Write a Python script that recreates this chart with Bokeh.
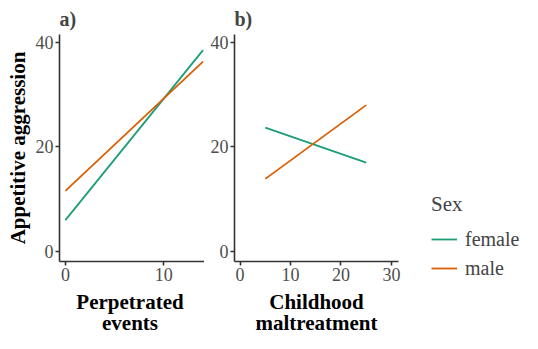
from bokeh.plotting import figure
from bokeh.layouts import row, column
from bokeh.models import Range1d, FixedTicker, Legend, LegendItem, Title
from bokeh.core.properties import value
from bokeh.embed import file_html
from bokeh.resources import INLINE

# ---- data ----
sexes = ["female", "male"]
colors = ["#1b9e77", "#d95f02"]

a_x = [0, 14]
a_female = [6.0, 38.5]
a_male = [11.6, 36.3]

b_x = [5, 25]
b_female = [23.7, 17.0]
b_male = [13.9, 28.0]

a_xticks = [0, 10]
b_xticks = [0, 10, 20, 30]
yticks = [0, 20, 40]

a_xlabel = ["Perpetrated", "events"]
b_xlabel = ["Childhood", "maltreatment"]
ylabel = "Appetitive aggression"

FONT = "Liberation Serif"
AX_COL = "#333333"
TICK_COL = "#4d4d4d"


def style(p, xticks):
    p.xgrid.visible = False
    p.ygrid.visible = False
    p.outline_line_color = None
    for ax in (p.xaxis[0], p.yaxis[0]):
        ax.axis_line_color = AX_COL
        ax.axis_line_width = 1.6
        ax.major_tick_line_color = AX_COL
        ax.major_tick_line_width = 1.6
        ax.major_tick_in = 0
        ax.major_tick_out = 4
        ax.minor_tick_line_color = None
        ax.major_label_text_font = FONT
        ax.major_label_text_font_size = "18px"
        ax.major_label_text_color = TICK_COL
        ax.major_label_standoff = 2
        ax.axis_label_standoff = 0
    p.xaxis[0].ticker = FixedTicker(ticks=xticks)
    p.yaxis[0].ticker = FixedTicker(ticks=yticks)
    p.title.text_font = FONT
    p.title.text_font_size = "20px"
    p.title.text_font_style = "bold"
    p.title.align = "left"
    p.title.offset = 0


SH = 44  # height of the x-title strip


def label_strip(width, left, right, lines):
    s = figure(width=width, height=SH, output_backend="svg", toolbar_location=None,
               x_range=Range1d(0, 1), y_range=Range1d(0, SH),
               x_axis_type=None, y_axis_type=None,
               min_border_left=left, min_border_right=right,
               min_border_top=0, min_border_bottom=0)
    s.xgrid.visible = False
    s.ygrid.visible = False
    s.outline_line_color = None
    s.text(x=[0.5, 0.5], y=[SH - 12, SH - 33], text=lines, text_font=value(FONT),
           text_font_size="21px", text_font_style="bold", text_color="black",
           text_align="center", text_baseline="middle")
    return s


HM = 289
p1 = figure(width=204, height=HM, output_backend="svg", toolbar_location=None,
            x_range=Range1d(-0.6, 14.15), y_range=Range1d(-1.9, 41.5),
            min_border_left=55, min_border_right=0, min_border_top=32, min_border_bottom=28,
            title="a)")
p1.line(a_x, a_female, line_color=colors[0], line_width=1.8)
p1.line(a_x, a_male, line_color=colors[1], line_width=1.8)
style(p1, a_xticks)
p1.add_layout(Title(text=ylabel, align="center", text_font=FONT, text_font_size="21px",
                    text_font_style="bold", text_color="black", standoff=6, offset=0), "left")

p2 = figure(width=200, height=HM, output_backend="svg", toolbar_location=None,
            x_range=Range1d(-1.1, 31.4), y_range=Range1d(-1.9, 41.5),
            min_border_left=30, min_border_right=6, min_border_top=32, min_border_bottom=28,
            title="b)")
p2.line(b_x, b_female, line_color=colors[0], line_width=1.8)
p2.line(b_x, b_male, line_color=colors[1], line_width=1.8)
style(p2, b_xticks)

s1 = label_strip(204, 55, 0, a_xlabel)
s2 = label_strip(200, 30, 6, b_xlabel)

# legend panel (not frame-aligned, so its frame spans the whole height)
p3 = figure(width=118, height=HM + SH, output_backend="svg", toolbar_location=None,
            x_range=Range1d(0, 1), y_range=Range1d(0, 1),
            x_axis_type=None, y_axis_type=None,
            min_border_left=0, min_border_right=0, min_border_top=0, min_border_bottom=0)
p3.frame_align = False
p3.xgrid.visible = False
p3.ygrid.visible = False
p3.outline_line_color = None
lf = p3.line([5, 6], [5, 6], line_color=colors[0], line_width=1.8)
lm = p3.line([5, 6], [5, 6], line_color=colors[1], line_width=1.8)

legend = Legend(items=[LegendItem(label=sexes[0], renderers=[lf]),
                       LegendItem(label=sexes[1], renderers=[lm])],
                location=(27, 53), title="Sex")
legend.title_text_font = FONT
legend.title_text_font_size = "21px"
legend.title_text_font_style = "normal"
legend.title_standoff = 10
legend.label_text_font = FONT
legend.label_text_font_size = "20px"
legend.glyph_width = 26
legend.glyph_height = 24
legend.label_height = 24
legend.label_standoff = 8
legend.spacing = 5
legend.padding = 0
legend.margin = 0
legend.border_line_color = None
legend.background_fill_alpha = 0
p3.add_layout(legend, "center")

layout = row(column(row(p1, p2), row(s1, s2)), p3)
open("out.html", "w").write(file_html(layout, INLINE))
